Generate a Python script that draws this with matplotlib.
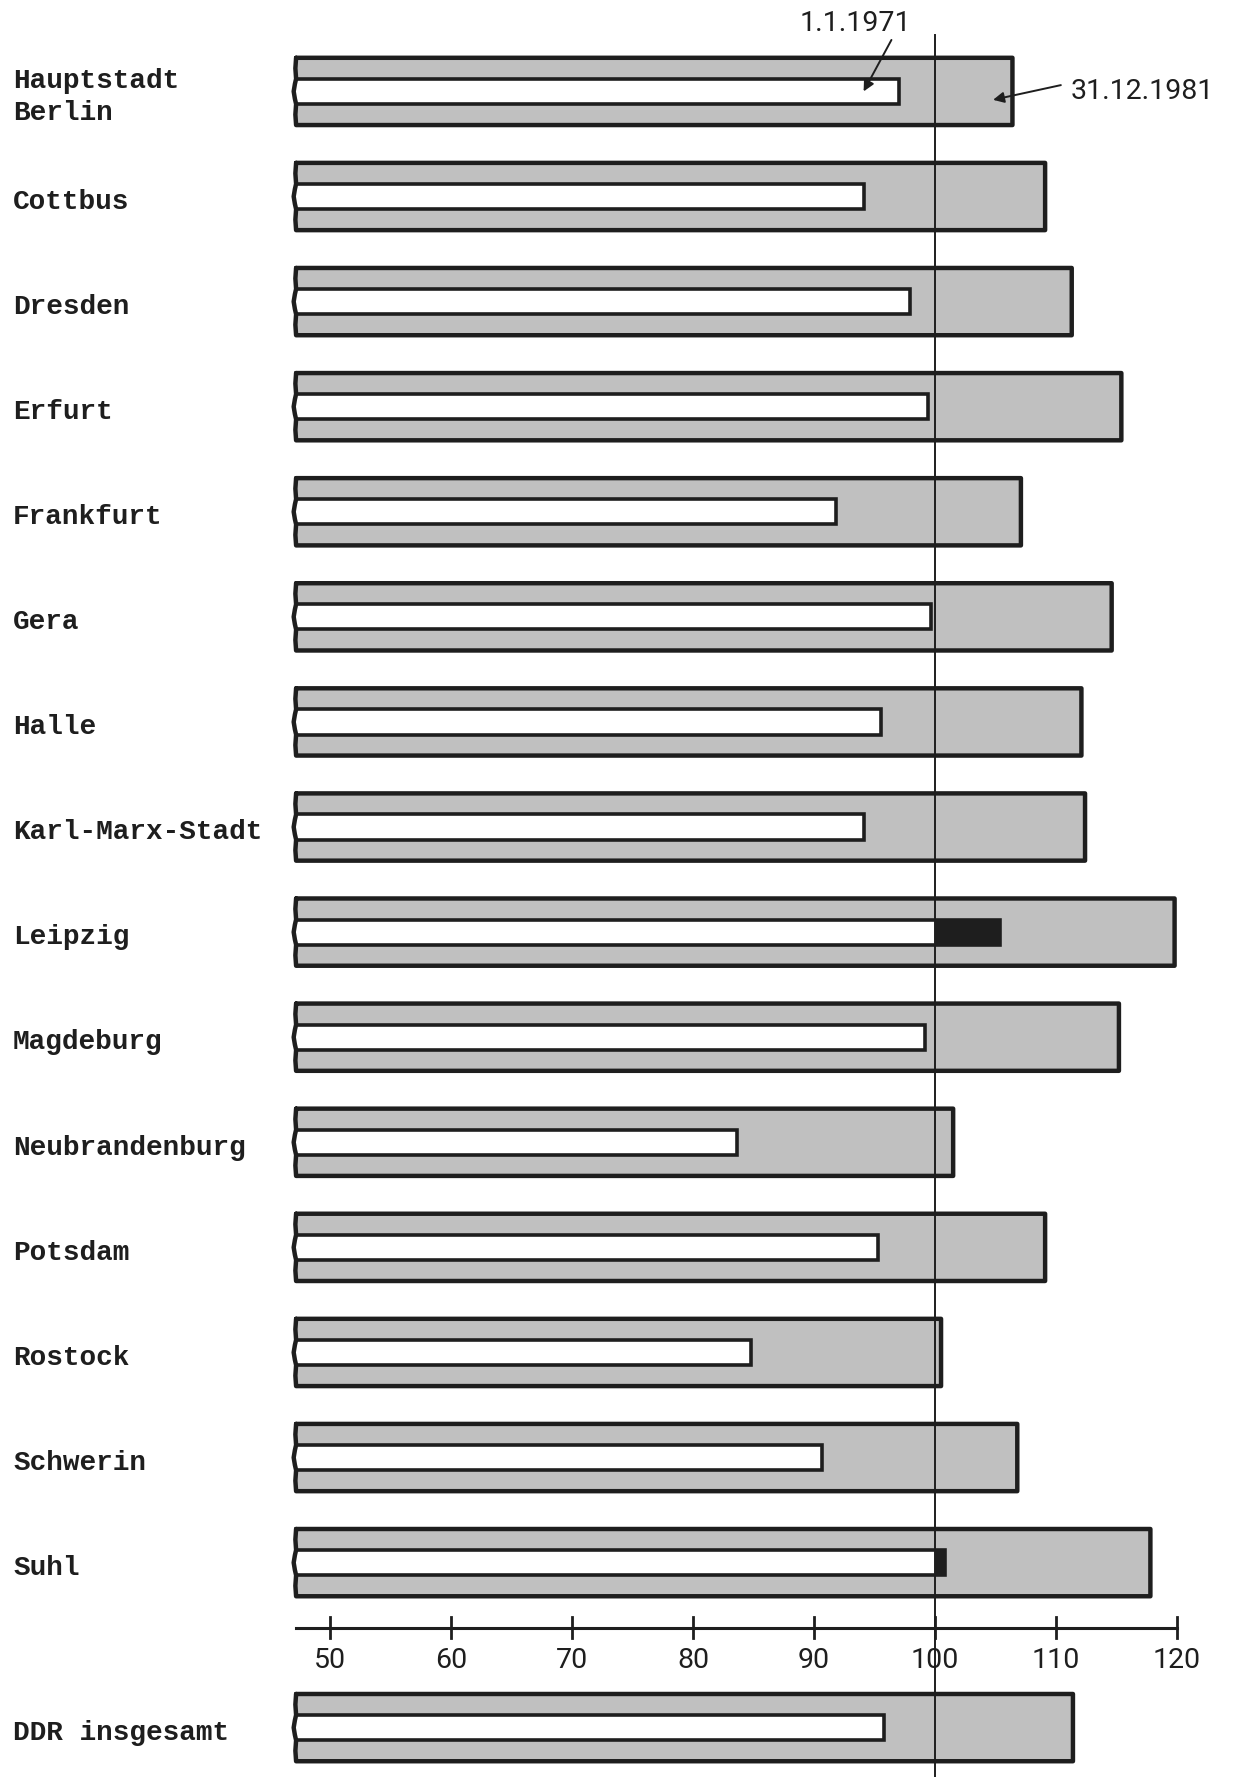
"""Bezirke der DDR: Index 1.1.1971 und 31.12.1981 als Balken mit Bruchkante."""

import matplotlib
matplotlib.use('Agg')
import matplotlib.pyplot as plt
from matplotlib.transforms import blended_transform_factory

regions = ['Hauptstadt\nBerlin', 'Cottbus', 'Dresden', 'Erfurt', 'Frankfurt',
           'Gera', 'Halle', 'Karl-Marx-Stadt', 'Leipzig', 'Magdeburg',
           'Neubrandenburg', 'Potsdam', 'Rostock', 'Schwerin', 'Suhl']
val_1981 = [106.4, 109.1, 111.3, 115.4, 107.1, 114.6, 112.1, 112.4, 119.8,
            115.2, 101.5, 109.1, 100.5, 106.8, 117.8]
val_1971 = [97.0, 94.1, 97.9, 99.4, 91.8, 99.7, 95.5, 94.1, 105.4,
            99.2, 83.6, 95.3, 84.8, 90.7, 100.8]
total_label = 'DDR insgesamt'
total_1981 = 111.4
total_1971 = 95.8
ticks = [50, 60, 70, 80, 90, 100, 110, 120]
label_1971 = '1.1.1971'
label_1981 = '31.12.1981'

START = 47.2      # Balken beginnen nicht bei 0 (Bruchkante)
REF = 100
INK = '#1e1e1e'
GRAY = '#c0c0c0'
LABEL_FONT = dict(family='Liberation Mono', weight='bold', size=20, color=INK)
NUM_FONT = dict(family='Roboto', size=20.5, color=INK)

fig = plt.figure(figsize=(12.53, 17.77), dpi=100)
ax = fig.add_axes([0, 0, 1, 1])
ax.set_xlim(22.73, 126.28)
ax.set_ylim(16.04, -0.87)
ax.axis('off')

axis_y = len(regions) - 1 + 0.62
total_y = len(regions) - 1 + 1.57
positions = list(range(len(regions))) + [total_y]
outer_vals = val_1981 + [total_1981]
inner_vals = val_1971 + [total_1971]

OUTER_H = 0.64
INNER_H = 0.24
BULGE = 0.2

outer = ax.barh(positions, [v - START for v in outer_vals], left=START,
                height=OUTER_H, color=GRAY, linewidth=0, zorder=1)
inner = ax.barh(positions, [min(v, REF) - START for v in inner_vals], left=START,
                height=INNER_H, color='white', linewidth=0, zorder=2)
over = [max(v - REF, 0) for v in inner_vals]
ax.barh(positions, over, left=REF, height=INNER_H, color=INK, linewidth=0, zorder=2)

for p_out, y, v_in in zip(outer, positions, inner_vals):
    x0 = p_out.get_x()
    x1 = x0 + p_out.get_width()
    top = y - OUTER_H / 2
    bot = y + OUTER_H / 2
    it = y - INNER_H / 2
    ib = y + INNER_H / 2
    # Umriss aussen mit geschweifter Bruchkante links
    xs = [x0, x1, x1, x0, x0 - BULGE * 0.3, x0, x0 - BULGE * 0.5, x0 - BULGE,
          x0 - BULGE * 0.5, x0, x0 - BULGE * 0.3, x0]
    ys = [top, top, bot, bot, bot - 0.1, ib, ib - 0.05, y,
          it + 0.05, it, top + 0.1, top]
    ax.plot(xs, ys, color=INK, lw=3.2, solid_joinstyle='round',
            solid_capstyle='round', zorder=4)
    # innerer Balken
    ax.plot([x0, v_in, v_in, x0], [it, it, ib, ib], color=INK, lw=2.6,
            solid_joinstyle='miter', zorder=4)

# Bezugslinie 100
ax.plot([REF, REF], [-0.54, 16.1], color=INK, lw=1.4, zorder=5)

# Skala
ax.plot([START, ticks[-1]], [axis_y, axis_y], color=INK, lw=2.2, zorder=3)
for t in ticks:
    ax.plot([t, t], [axis_y - 0.1, axis_y + 0.1], color=INK, lw=2.0, zorder=3)
    ax.text(t, axis_y + 0.31, str(t), ha='center', va='center', **NUM_FONT)

# Beschriftungen
trans = blended_transform_factory(ax.transAxes, ax.transData)
for name, y in zip(regions + [total_label], positions):
    ax.text(0.0104, y + 0.05, name, transform=trans, ha='left', va='center',
            linespacing=1.3, **LABEL_FONT)

# Legende als Pfeile am ersten Balken
ax.text(val_1971[0] - 3.6, -0.65, label_1971, ha='center', va='center', **NUM_FONT)
ax.annotate('', xy=(val_1971[0] - 2.9, 0.0), xytext=(val_1971[0] - 0.6, -0.49),
            arrowprops=dict(arrowstyle='-|>', color=INK, lw=1.4,
                            mutation_scale=16, shrinkA=0, shrinkB=0), zorder=6)
ax.text(111.2, 0.0, label_1981, ha='left', va='center', **NUM_FONT)
ax.annotate('', xy=(val_1981[0] - 1.6, 0.08), xytext=(110.4, -0.06),
            arrowprops=dict(arrowstyle='-|>', color=INK, lw=1.4,
                            mutation_scale=16, shrinkA=0, shrinkB=0), zorder=6)

fig.savefig('out.png', dpi=100, facecolor='white')
